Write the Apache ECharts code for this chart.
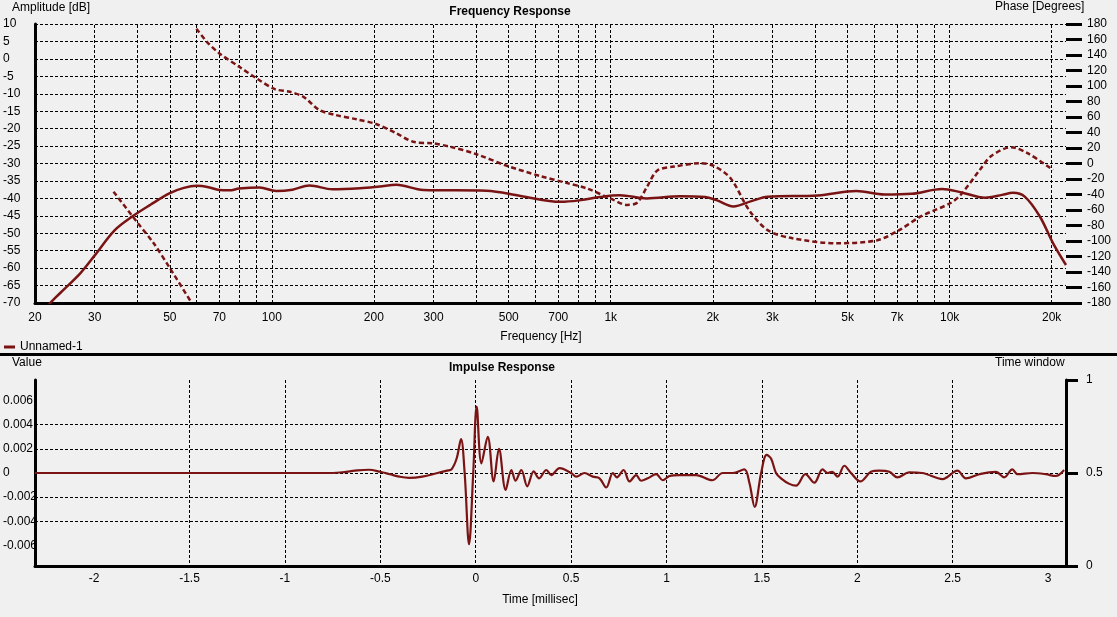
<!DOCTYPE html>
<html>
<head>
<meta charset="utf-8">
<title>Frequency / Impulse Response</title>
<script src="https://cdn.jsdelivr.net/npm/echarts@6/dist/echarts.min.js"></script>
<style>
  html, body { margin: 0; padding: 0; background: #f0f0f0; }
  #chart { width: 1117px; height: 617px; }
</style>
</head>
<body>
<div id="chart"></div>
<script>
// ---- frequency response: amplitude (dB) ----
var magFreq = [22, 23.7, 27.2, 30.1, 34.4, 39, 43.7, 50, 55, 60, 65, 70, 75, 80, 92, 103, 115, 129, 151, 182, 208, 233, 280, 430, 542, 712, 817, 930, 1063, 1276, 1606, 1900, 2050, 2300, 2600, 2903, 4083, 5303, 6432, 7716, 9500, 10850, 12730, 14280, 15380, 16660, 18460, 20200, 22050];
var magDb = [-70.3, -67.2, -61.5, -56.2, -49.1, -45, -41.9, -38.5, -37, -36.4, -36.8, -37.6, -37.7, -37.2, -36.9, -37.9, -37.5, -36.3, -37.4, -37.1, -36.6, -36.1, -37.6, -37.8, -39.3, -41.0, -40.5, -39.6, -39.1, -40.0, -39.4, -39.6, -40.5, -42.3, -40.8, -39.5, -39.2, -37.9, -38.9, -38.7, -37.3, -38.3, -39.8, -39.0, -38.4, -39.5, -45.2, -52.9, -59.1];

// ---- frequency response: phase (degrees), null = wrap break ----
var phaseFreq = [34.1, 39.9, 44.8, 50, 58, 59, 59.9, 64.3, 70, 80, 90, 102, 113, 124, 138, 154, 178, 203, 233, 261, 299, 335, 400, 494, 617, 740, 848, 996, 1117, 1196, 1280, 1372, 1536, 1840, 2016, 2258, 2558, 2903, 3437, 4641, 6119, 7100, 8246, 10070, 10800, 12270, 13300, 15200, 17030, 20200];
var phaseDeg = [-36.4, -75, -103, -135, -180, null, 174, 157, 142, 125, 110, 96, 92.5, 86, 69, 62.6, 57, 51, 39, 28, 26, 21.7, 12.3, -3, -16, -25, -32, -45, -53.5, -50.6, -30, -9, -4, 0.3, -3.2, -19, -60, -86, -96.5, -103, -99, -86, -68, -51, -40, -8.4, 10, 21, 13, -8.4];

// ---- frequency axis grid / labels ----
var freqTicks = [20, 30, 40, 50, 60, 70, 80, 90, 100, 200, 300, 400, 500, 600, 700, 800, 900, 1000, 2000, 3000, 4000, 5000, 6000, 7000, 8000, 9000, 10000, 20000];
var freqTickLabels = ['20', '30', '', '50', '', '70', '', '', '100', '200', '300', '', '500', '', '700', '', '', '1k', '2k', '3k', '', '5k', '', '7k', '', '', '10k', '20k'];

// ---- impulse response ----
var impTime = [-2.31, -0.75, -0.68, -0.62, -0.56, -0.5, -0.45, -0.4, -0.35, -0.28, -0.2, -0.15, -0.127, -0.1, -0.077, -0.058, -0.035, -0.013, 0.005, 0.03, 0.063, 0.094, 0.122, 0.157, 0.187, 0.209, 0.239, 0.27, 0.304, 0.332, 0.37, 0.396, 0.44, 0.5, 0.527, 0.57, 0.614, 0.649, 0.684, 0.719, 0.74, 0.775, 0.806, 0.841, 0.867, 0.902, 0.946, 0.98, 1.016, 1.068, 1.155, 1.24, 1.295, 1.347, 1.408, 1.435, 1.462, 1.496, 1.525, 1.548, 1.574, 1.6, 1.644, 1.679, 1.728, 1.775, 1.818, 1.845, 1.868, 1.897, 1.932, 1.967, 2.016, 2.072, 2.115, 2.168, 2.21, 2.272, 2.34, 2.447, 2.525, 2.569, 2.64, 2.726, 2.77, 2.813, 2.84, 2.918, 2.988, 3.04, 3.084];
var impValue = [0, 0, 0.0001, 0.00022, 0.00027, 0.0001, -0.0001, -0.0003, -0.0004, -0.0003, 0, 0.0002, 0.0003, 0.0012, 0.0028, 0, -0.0059, 0, 0.0055, 0.0008, 0.003, -0.0007, 0.002, -0.0014, 0.00025, -0.00064, 0.00025, -0.0011, 0.00014, -0.00044, 0.00025, -0.00017, 0.0004, 0, -0.0003, 0, -0.0003, -0.00044, -0.0012, 0, -0.00036, 0.00025, -0.0007, -0.00017, -0.00064, -0.00044, -0.0001, -0.0006, -0.00025, -0.00017, -0.00017, -0.0006, 0, 0, 0.0003, -0.00085, -0.0028, 0, 0.0015, 0.0012, 0, -0.00044, -0.0009, -0.00105, -0.0001, -0.0008, 0.0003, 0, 0.0001, -0.0003, 0.0006, 0, -0.0007, 0.0001, 0.0002, 0.0001, -0.00036, 0.00005, 0, -0.0005, 0.0002, -0.00044, -0.0001, 0.0001, -0.00036, 0.0003, -0.0001, 0, -0.0001, -0.00025, 0.00025];
var timeTicks = [-2, -1.5, -1, -0.5, 0, 0.5, 1, 1.5, 2, 2.5, 3];
var valueTicks = [-0.006, -0.004, -0.002, 0, 0.002, 0.004, 0.006];

var curveColor = '#7a1414';
var font = "'Liberation Sans', Arial, sans-serif";
var gridLine = { color: '#000', width: 1, type: [3, 2] };

function txt(text, left, top, bold, align) {
    return {
        text: text, left: left, top: top, padding: 0,
        textAlign: align || 'left',
        textStyle: { fontFamily: font, fontSize: 12, color: '#000', fontWeight: bold ? 'bold' : 'normal' }
    };
}

var chart = echarts.init(document.getElementById('chart'));
chart.setOption({
    animation: false,
    backgroundColor: '#f0f0f0',
    textStyle: { fontFamily: font },
    title: [
        txt('Amplitude [dB]', 12, 2),
        txt('Frequency Response', 510, 6, true, 'center'),
        txt('Phase [Degrees]', 995, 1),
        txt('Frequency [Hz]', 541, 331, false, 'center'),
        txt('Value', 12, 357),
        txt('Impulse Response', 502, 362, true, 'center'),
        txt('Time window', 995, 357),
        txt('Time [millisec]', 540, 594, false, 'center')
    ],
    legend: {
        left: 4, top: 341, padding: 0, icon: 'rect', itemWidth: 11, itemHeight: 3, itemGap: 6,
        data: ['Unnamed-1'],
        textStyle: { fontFamily: font, fontSize: 12, color: '#000' }
    },
    graphic: [{
        type: 'rect', shape: { x: 0, y: 353, width: 1117, height: 3 }, style: { fill: '#000' }
    }],
    grid: [
        { left: 35, right: 51, top: 24, bottom: 314 },
        { left: 35, right: 51, top: 380, bottom: 51 }
    ],
    xAxis: [{
        gridIndex: 0, type: 'log', logBase: 10, min: 20, max: 22050,
        axisLine: { onZero: false, lineStyle: { color: '#000', width: 3 } },
        axisTick: { show: false },
        axisLabel: { show: false },
        splitLine: { show: false }
    }, {
        gridIndex: 1, type: 'value', min: -2.31, max: 3.094,
        axisLine: { onZero: false, lineStyle: { color: '#000', width: 3 } },
        axisTick: { show: false, customValues: timeTicks },
        axisLabel: { customValues: timeTicks, color: '#000', fontSize: 12, margin: 7 },
        splitLine: { show: true, showMinLine: false, showMaxLine: false, lineStyle: gridLine }
    }],
    yAxis: [{
        gridIndex: 0, type: 'value', min: -70, max: 10, interval: 5,
        axisLine: { show: true, onZero: false, lineStyle: { color: '#000', width: 3 } },
        axisTick: { show: false },
        axisLabel: { color: '#000', fontSize: 12, align: 'left', margin: 32 },
        splitLine: { show: true, showMinLine: false, lineStyle: gridLine }
    }, {
        gridIndex: 0, type: 'value', min: -180, max: 180, interval: 20, position: 'right',
        axisLine: { show: false, onZero: false },
        axisTick: { show: true, length: 16, lineStyle: { color: '#000', width: 3 } },
        axisLabel: { color: '#000', fontSize: 12, margin: 21 },
        splitLine: { show: false }
    }, {
        gridIndex: 1, type: 'value', min: -0.0077, max: 0.0077,
        axisLine: { show: true, onZero: false, lineStyle: { color: '#000', width: 3 } },
        axisTick: { show: false, customValues: valueTicks },
        axisLabel: {
            customValues: valueTicks, color: '#000', fontSize: 12, align: 'left', margin: 32,
            formatter: function (v) { return v === 0 ? '0' : v.toFixed(3); }
        },
        splitLine: { show: true, showMinLine: false, showMaxLine: false, lineStyle: gridLine }
    }, {
        gridIndex: 1, type: 'value', min: 0, max: 1, interval: 0.5, position: 'right',
        axisLine: { show: true, onZero: false, lineStyle: { color: '#000', width: 3 } },
        axisTick: { show: true, length: 12, lineStyle: { color: '#000', width: 3 } },
        axisLabel: { color: '#000', fontSize: 12, margin: 20 },
        splitLine: { show: false }
    }],
    series: [{
        name: 'Unnamed-1',
        type: 'line',
        xAxisIndex: 0, yAxisIndex: 0,
        data: magFreq.map(function (f, i) { return [f, magDb[i]]; }),
        smooth: 0.35,
        showSymbol: false,
        lineStyle: { color: curveColor, width: 2.5 },
        itemStyle: { color: curveColor },
        markLine: {
            silent: true,
            z: 1,
            symbol: ['none', 'none'],
            lineStyle: gridLine,
            label: { position: 'start', distance: 9, color: '#000', fontSize: 12, fontFamily: font },
            data: freqTicks.map(function (f, i) {
                var item = {
                    xAxis: f,
                    label: { show: freqTickLabels[i] !== '', formatter: freqTickLabels[i] }
                };
                if (i === 0) {
                    item.lineStyle = { color: 'rgba(0,0,0,0)' };
                }
                return item;
            })
        }
    }, {
        name: 'Unnamed-1',
        type: 'line',
        xAxisIndex: 0, yAxisIndex: 1,
        data: phaseFreq.map(function (f, i) {
            return [f, phaseDeg[i] === null ? '-' : phaseDeg[i]];
        }),
        smooth: 0.3,
        connectNulls: false,
        showSymbol: false,
        lineStyle: { color: curveColor, width: 2.5, type: [5, 3] },
        itemStyle: { color: curveColor }
    }, {
        name: 'Unnamed-1',
        type: 'line',
        xAxisIndex: 1, yAxisIndex: 2,
        data: impTime.map(function (t, i) { return [t, impValue[i]]; }),
        smooth: 0.35,
        showSymbol: false,
        lineStyle: { color: curveColor, width: 2.2 },
        itemStyle: { color: curveColor }
    }]
});
</script>
</body>
</html>
